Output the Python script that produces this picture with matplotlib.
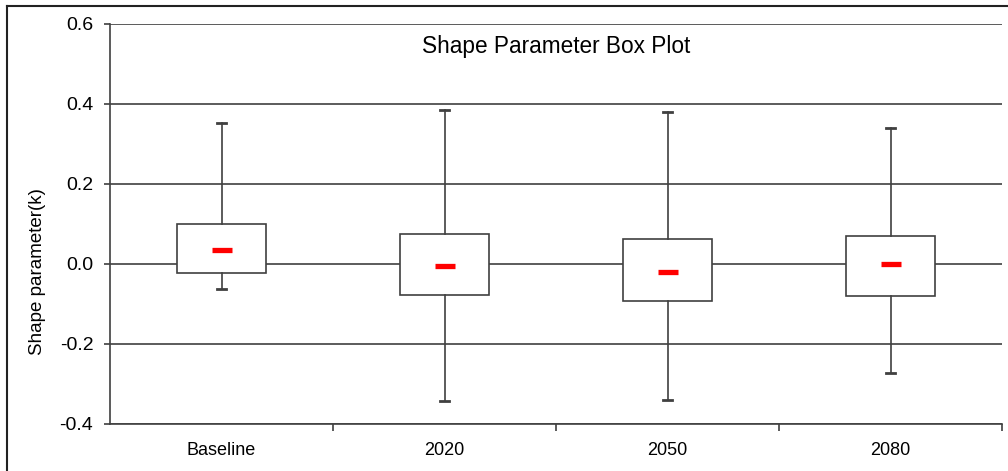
import matplotlib
matplotlib.use('Agg')
import matplotlib.pyplot as plt
from matplotlib.lines import Line2D

plt.rcParams['font.family'] = ['Liberation Sans', 'DejaVu Sans']

# values
categories = ['Baseline', '2020', '2050', '2080']
whisker_low = [-0.063, -0.342, -0.339, -0.272]
q1 = [-0.023, -0.078, -0.092, -0.081]
medians = [0.036, -0.005, -0.019, -0.001]
q3 = [0.100, 0.076, 0.062, 0.071]
whisker_high = [0.353, 0.385, 0.381, 0.339]
yticks = [-0.4, -0.2, 0.0, 0.2, 0.4, 0.6]

line_col = '#404040'

fig = plt.figure(figsize=(10.08, 4.71), dpi=100)
ax = fig.add_axes([110 / 1008, 47 / 471, 892 / 1008, 400 / 471])

stats = []
for i, name in enumerate(categories):
    stats.append({'label': name, 'whislo': whisker_low[i], 'q1': q1[i],
                  'med': medians[i], 'q3': q3[i], 'whishi': whisker_high[i]})

positions = list(range(len(categories)))
ax.bxp(stats, positions=positions, widths=0.4, showfliers=False,
       capwidths=0.036, zorder=3,
       boxprops=dict(color=line_col, linewidth=1.2),
       whiskerprops=dict(color=line_col, linewidth=1.2),
       capprops=dict(color=line_col, linewidth=2.0),
       medianprops=dict(linewidth=0),
       patch_artist=True)
for patch in ax.patches:
    patch.set_facecolor('white')
    patch.set_edgecolor(line_col)

# short red mean/median dash
ax.plot(positions, medians, ls='none', marker='_', ms=14.4, mew=3.8,
        color='red', zorder=4)

ax.set_xlim(-0.5, len(categories) - 0.5)
ax.set_ylim(-0.4, 0.6)
ax.set_yticks(yticks)
ax.set_yticklabels([f'{t:.1f}' for t in yticks])
ax.yaxis.grid(True, color=line_col, linewidth=1.2)
ax.set_axisbelow(True)

# x ticks sit between categories, labels centred on each box
ax.set_xticks([p + 0.5 for p in positions])
ax.set_xticklabels([])
ax.set_xticks(positions, minor=True)
ax.set_xticklabels(categories, minor=True)
ax.tick_params(axis='x', which='major', length=5, width=1.2, color=line_col, direction='out')
ax.tick_params(axis='x', which='minor', length=0, pad=13, labelsize=13)
ax.tick_params(axis='y', length=4.5, width=1.2, color=line_col, labelsize=14, pad=7.5)

for side in ['top', 'right']:
    ax.spines[side].set_visible(False)
for side in ['left', 'bottom']:
    ax.spines[side].set_color(line_col)
    ax.spines[side].set_linewidth(1.2)

ax.set_ylabel('Shape parameter(k)', fontsize=13.5)
ax.yaxis.set_label_coords(-0.0715, 0.38)
ax.text(0.5, 0.945, 'Shape Parameter Box Plot', transform=ax.transAxes,
        ha='center', va='center', fontsize=16.3)

# outer frame of the chart area (only top and left visible)
fig.add_artist(Line2D([7 / 1008, 1], [1 - 6 / 471] * 2, transform=fig.transFigure,
                      color='#222222', linewidth=1.5))
fig.add_artist(Line2D([7 / 1008] * 2, [0, 1 - 6 / 471], transform=fig.transFigure,
                      color='#222222', linewidth=1.5))

fig.savefig('out.png', dpi=100)
